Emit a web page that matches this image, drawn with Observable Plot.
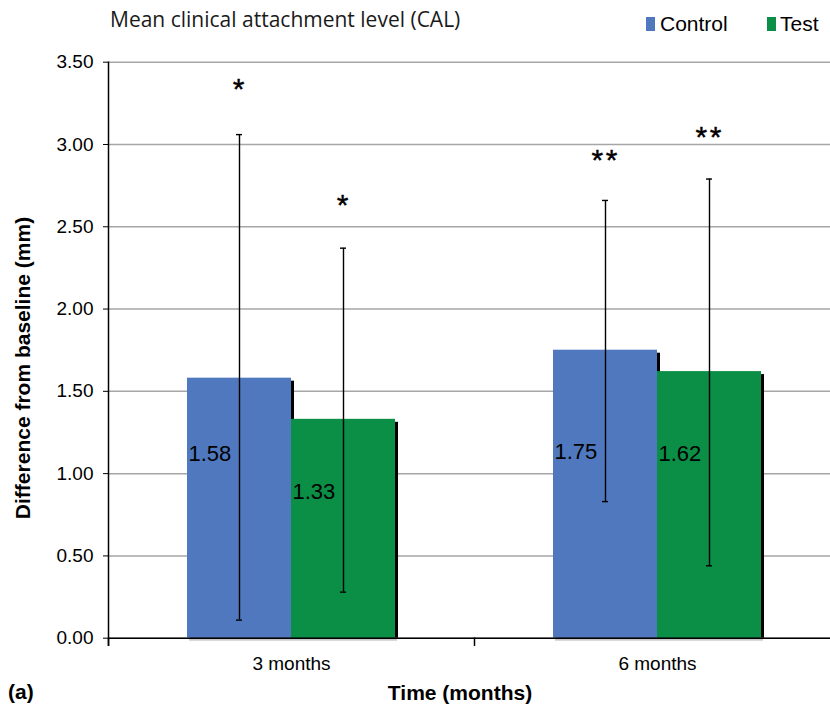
<!DOCTYPE html>
<html>
<head>
<meta charset="utf-8">
<script src="https://cdn.jsdelivr.net/npm/d3@7"></script>
<script src="https://cdn.jsdelivr.net/npm/@observablehq/plot@0.6"></script>
<style>
  html, body { margin: 0; padding: 0; background: #fff; overflow: hidden; }
  #wrap { position: relative; width: 830px; height: 711px; overflow: hidden; font-family: "Liberation Sans", Arial, sans-serif; color: #000; }
  #header { position: relative; height: 45px; }
  .abs { position: absolute; white-space: nowrap; line-height: 1; }
  .sw { position: absolute; width: 9px; height: 14px; }
</style>
</head>
<body>
<div id="wrap">
  <div id="header">
    <div class="abs" id="title" style="left:110px; top:9px; font-family:'Open Sans', sans-serif; font-size:21px; color:#1a1a1a;"></div>
    <div class="sw" id="sw0" style="left:646px; top:17px;"></div>
    <div class="abs" id="lg0" style="left:660px; top:13px; font-size:21px;"></div>
    <div class="sw" id="sw1" style="left:767px; top:17px;"></div>
    <div class="abs" id="lg1" style="left:780px; top:13px; font-size:21px;"></div>
  </div>
  <div id="chart"></div>
  <div class="abs" id="ylab" style="left:22px; top:368px; font-size:21px; font-weight:bold; transform: translate(-50%,-50%) rotate(-90deg);"></div>
  <div class="abs" id="xlab" style="left:460px; top:682px; font-size:21px; font-weight:bold; transform: translateX(-50%);"></div>
  <div class="abs" id="panel" style="left:8px; top:681px; font-size:21px; font-weight:bold;"></div>
</div>
<script>
// ---- data ----
const chartTitle = "Mean clinical attachment level (CAL)";
const yTitle = "Difference from baseline (mm)";
const xTitle = "Time (months)";
const panelTag = "(a)";
const times = ["3 months", "6 months"];
const series = ["Control", "Test"];
const colors = ["#4F78BE", "#0B8E46"];
const meanControl = [1.58, 1.75];
const meanTest = [1.33, 1.62];
const lowControl = [0.11, 0.83];
const highControl = [3.06, 2.66];
const lowTest = [0.28, 0.44];
const highTest = [2.37, 2.79];
const starsControl = ["*", "**"];
const starsTest = ["*", "**"];
const starAtControl = [3.35, 2.92];
const starAtTest = [2.65, 3.06];
const labelAtControl = [1.12, 1.13];
const labelAtTest = [0.89, 1.12];
const yTicks = [0, 0.5, 1, 1.5, 2, 2.5, 3, 3.5];

// ---- table built from the arrays ----
const rows = [];
times.forEach((t, i) => {
  rows.push({time: t, series: series[0], mean: meanControl[i], lo: lowControl[i], hi: highControl[i], star: starsControl[i], starAt: starAtControl[i], labelAt: labelAtControl[i]});
  rows.push({time: t, series: series[1], mean: meanTest[i], lo: lowTest[i], hi: highTest[i], star: starsTest[i], starAt: starAtTest[i], labelAt: labelAtTest[i]});
});

document.getElementById("title").textContent = chartTitle;
document.getElementById("lg0").textContent = series[0];
document.getElementById("lg1").textContent = series[1];
document.getElementById("sw0").style.background = colors[0];
document.getElementById("sw1").style.background = colors[1];
document.getElementById("ylab").textContent = yTitle;
document.getElementById("xlab").textContent = xTitle;
document.getElementById("panel").textContent = panelTag;

const chart = Plot.plot({
  width: 830,
  height: 666,
  marginTop: 16.7,
  marginBottom: 73.3,
  marginLeft: 107,
  marginRight: -10,
  style: {fontFamily: "'Liberation Sans', Arial, sans-serif", fontSize: "19px", color: "#000", background: "transparent", overflow: "visible"},
  fx: {domain: times, padding: 0, axis: null},
  x: {domain: series, paddingInner: 0, paddingOuter: 0.745, axis: null},
  y: {domain: [0, 3.5], axis: null},
  color: {domain: series, range: colors},
  marks: [
    Plot.ruleY(yTicks, {stroke: "#a6a6a6", strokeWidth: 1.5}),
    Plot.barY(rows, {fx: "time", x: "series", y1: 0, y2: 0, insetBottom: -3, dx: 2, fill: "#c9c9c9"}),
    Plot.barY(rows, {fx: "time", x: "series", y1: 0, y2: "mean", dx: 3, dy: 3, insetBottom: 3, fill: "#000"}),
    Plot.barY(rows, {fx: "time", x: "series", y1: 0, y2: "mean", fill: "series"}),
    Plot.ruleY([0], {stroke: "#000", strokeWidth: 1.5}),
    Plot.frame({anchor: "left", fx: () => times[0], insetBottom: -7, stroke: "#000", strokeWidth: 1.5}),
    Plot.frame({anchor: "left", insetTop: 576, insetBottom: -7, stroke: "#000", strokeWidth: 1.5}),
    Plot.ruleX(rows, {fx: "time", x: "series", y1: "lo", y2: "hi", stroke: "#000", strokeWidth: 1.4}),
    Plot.tickY(rows, {fx: "time", x: "series", y: "lo", inset: 49, stroke: "#000", strokeWidth: 1.4}),
    Plot.tickY(rows, {fx: "time", x: "series", y: "hi", inset: 49, stroke: "#000", strokeWidth: 1.4}),
    Plot.text(rows, {fx: "time", x: "series", y: "labelAt", text: d => d.mean.toFixed(2), textAnchor: "start", dx: -51, fontSize: 22, fill: "#000"}),
    Plot.text(rows, {fx: "time", x: "series", y: "starAt", text: d => d.star.split("").join("\u200A"), dx: -1, dy: 3, fontSize: 30, fill: "#000", stroke: "#000", strokeWidth: 0.4}),
    Plot.axisY({ticks: yTicks, tickFormat: d => d.toFixed(2), tickSize: 5, tickPadding: 10, label: null, fontSize: 19}),
    Plot.axisFx({anchor: "bottom", tickSize: 0, tickPadding: 18, label: null, fontSize: 19})
  ]
});
document.getElementById("chart").appendChild(chart);
</script>
</body>
</html>
